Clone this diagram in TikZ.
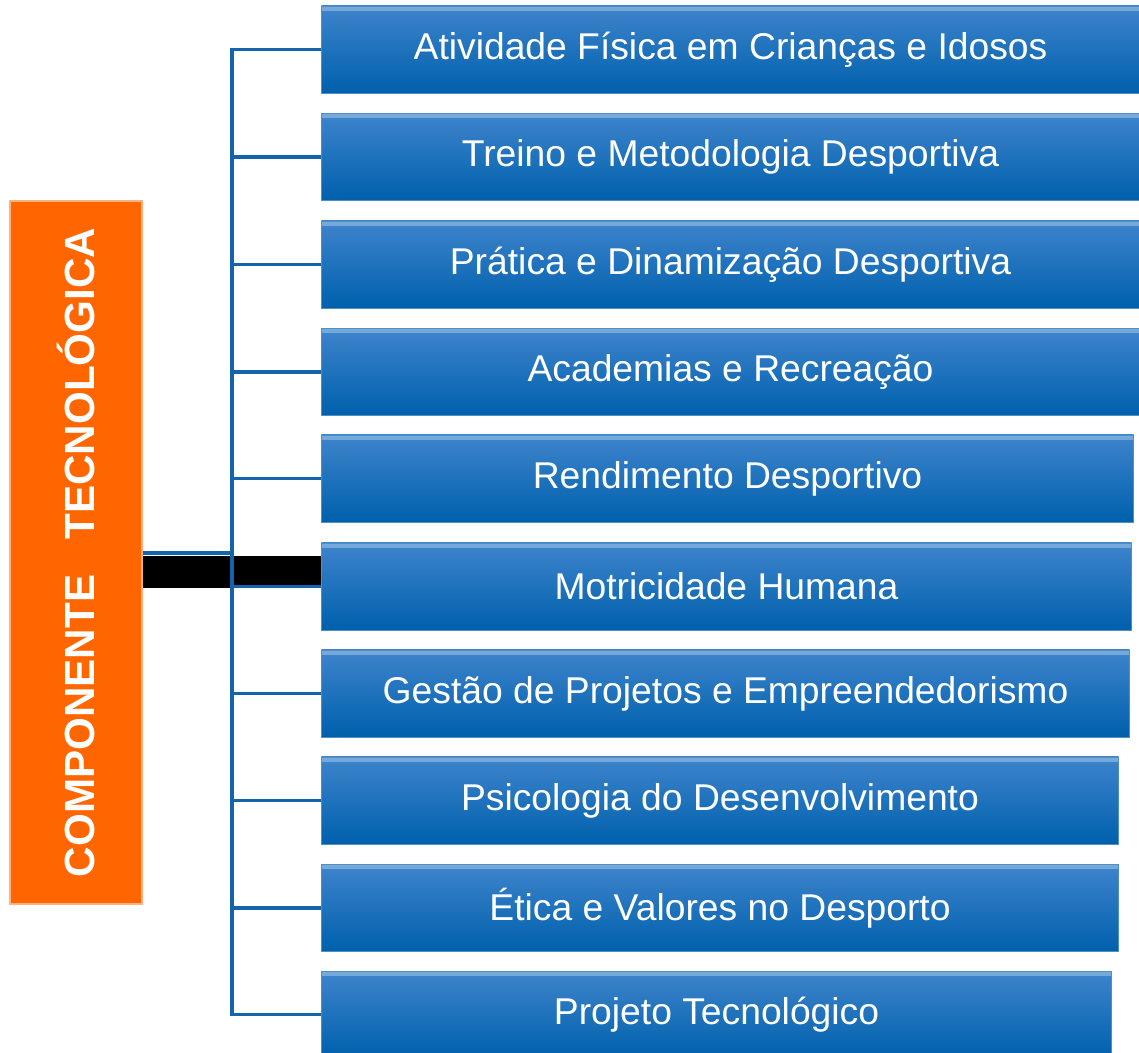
\documentclass[tikz,border=0pt]{standalone}
\usepackage{fontspec}
\setmainfont{Liberation Sans}
\usetikzlibrary{positioning}
\definecolor{azul}{RGB}{0,96,172}
\definecolor{azulclaro}{RGB}{62,132,204}
\definecolor{laranja}{RGB}{255,102,0}
\definecolor{linha}{RGB}{20,100,172}

\begin{document}
\begin{tikzpicture}[x=0.025cm, y=-0.025cm,
	tema/.style={rectangle, anchor=west, minimum height=2.175cm, top color=azulclaro, bottom color=azul,
		draw=azul!70!white, line width=0.6pt, text=white, font=\fontsize{26.5}{30}\selectfont,
		path picture={\fill[white, opacity=0.3] (path picture bounding box.north west) rectangle ([yshift=-0.12cm]path picture bounding box.north east);}},
	componente/.style={rectangle, rotate=90, minimum width=17.575cm, minimum height=3.3cm, fill=laranja,
		draw=laranja!50!white, line width=1pt, text=white, font=\bfseries\fontsize{30}{36}\selectfont},
	ligacao/.style={draw=linha, line width=2.8pt},
	barra/.style={draw=black, line width=0.8cm},]

    \useasboundingbox (0,0) rectangle (1139,1053);

    \node[componente] (comp) at (76,552.5) {COMPONENTE\ \ \ TECNOLÓGICA};

    \node[tema, minimum width=20.45cm] (b1) at (321,49.5) {Atividade Física em Crianças e Idosos};
    \node[tema, minimum width=20.45cm] (b2) at (321,157) {Treino e Metodologia Desportiva};
    \node[tema, minimum width=20.45cm] (b3) at (321,264.5) {Prática e Dinamização Desportiva};
    \node[tema, minimum width=20.45cm] (b4) at (321,372) {Academias e Recreação};
    \node[tema, minimum width=20.3cm] (b5) at (321,478.5) {Rendimento Desportivo};
    \node[tema, minimum width=20.25cm] (b6) at (321,586.5) {Motricidade Humana};
    \node[tema, minimum width=20.2cm] (b7) at (321,693.5) {Gestão de Projetos e Empreendedorismo};
    \node[tema, minimum width=19.925cm] (b8) at (321,800.5) {Psicologia do Desenvolvimento};
    \node[tema, minimum width=19.925cm] (b9) at (321,908) {Ética e Valores no Desporto};
    \node[tema, minimum width=19.75cm] (b10) at (321,1014.5) {Projeto Tecnológico};

    \coordinate (espinha) at (232,0);
    \coordinate (barra) at (0,572);
    \coordinate (saida) at (0,553);

    \draw[barra] (comp.south |- barra) -- (b6.west |- barra);
    \draw[ligacao] (comp.south |- saida) -- (espinha |- saida);
    \draw[ligacao] (b1.west) -- (b1.west -| espinha) -- (b10.west -| espinha) -- (b10.west);
    \draw[ligacao] (b2.west -| espinha) -- (b2.west);
    \draw[ligacao] (b3.west -| espinha) -- (b3.west);
    \draw[ligacao] (b4.west -| espinha) -- (b4.west);
    \draw[ligacao] (b5.west -| espinha) -- (b5.west);
    \draw[ligacao] (b6.west -| espinha) -- (b6.west);
    \draw[ligacao] (b7.west -| espinha) -- (b7.west);
    \draw[ligacao] (b8.west -| espinha) -- (b8.west);
    \draw[ligacao] (b9.west -| espinha) -- (b9.west);
\end{tikzpicture}
\end{document}
